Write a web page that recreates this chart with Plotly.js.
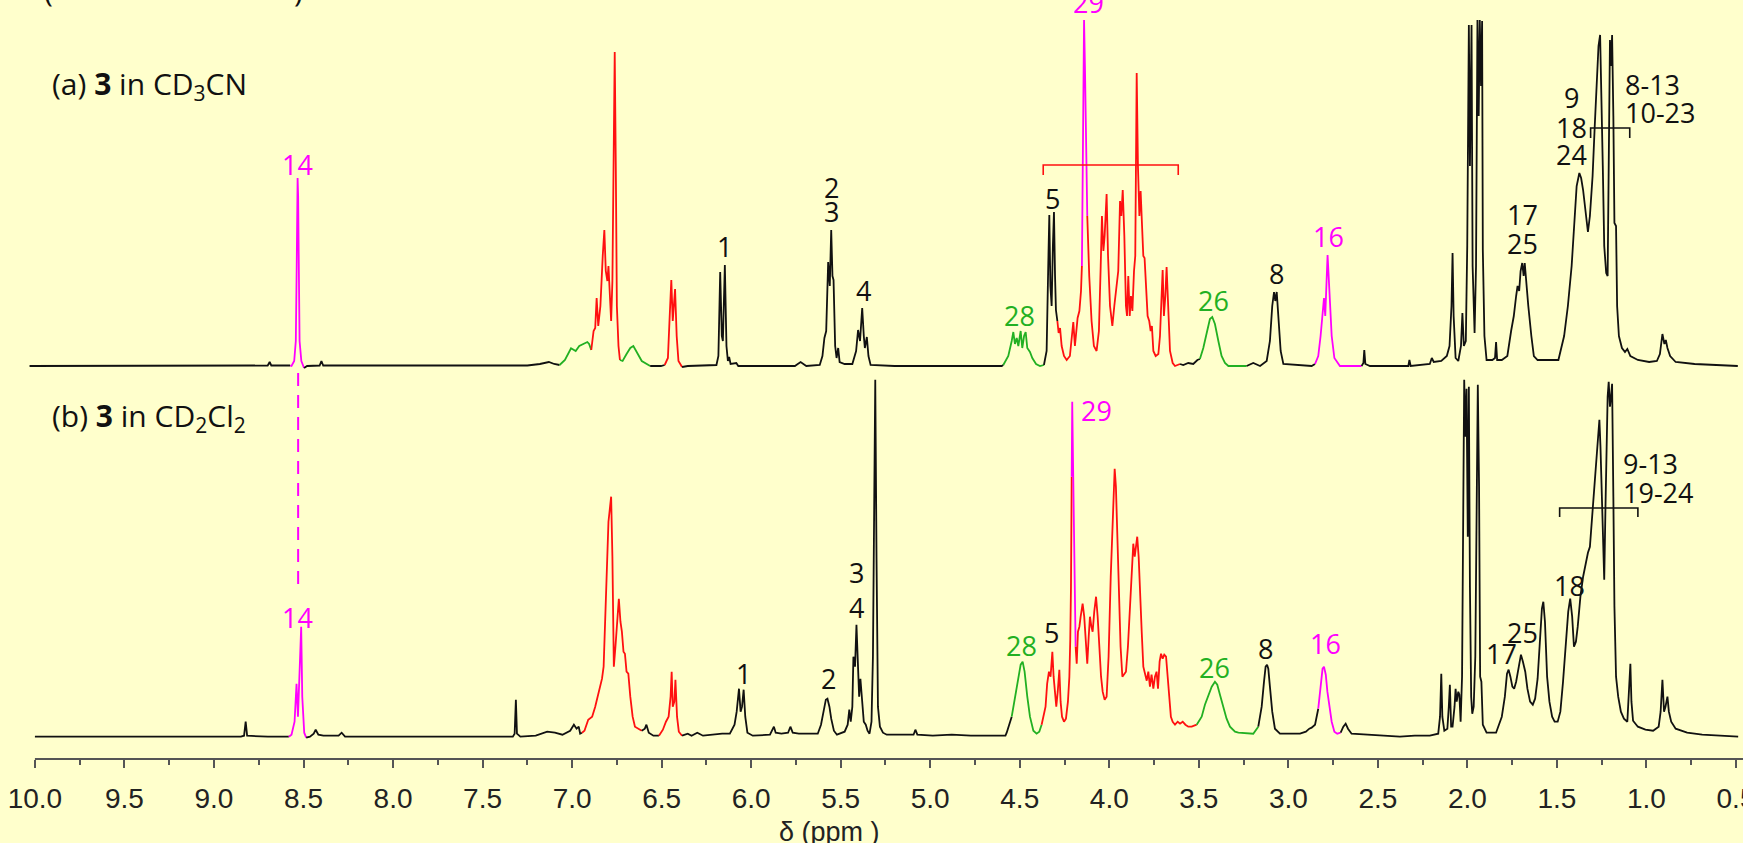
<!DOCTYPE html>
<html>
<head>
<meta charset="utf-8">
<script src="https://cdn.plot.ly/plotly-3.0.1.min.js"></script>
<style>html,body{margin:0;padding:0;background:#FFFFCC;}#chart{width:1743px;height:843px;}</style>
</head>
<body>
<div id="chart"></div>
<script>
// ---------- DATA (chemical shift in ppm, intensity in arbitrary units, colour code per point) ----------
// colour codes: k = black, r = red, g = green, m = magenta
const specA_ppm = [
10.03,8.75,8.70,8.689,8.68,8.575,
8.567,8.552,8.543,8.538,8.535,8.533,8.530,8.527,8.522,8.512,8.497,
8.48,8.41,8.40,8.39,7.25,7.18,7.13,7.10,7.07,
7.04,7.006,6.98,6.96,6.94,6.915,6.905,6.893,
6.880,6.871,6.863,6.854,6.842,6.829,6.820,6.812,6.803,6.797,6.788,6.782,6.775,6.769,6.762,6.756,6.750,6.741,6.733,
6.718,6.696,6.675,6.658,6.641,6.611,6.564,
6.504,6.483,
6.465,6.455,6.446,6.438,6.431,6.425,6.416,6.406,6.386,
6.354,6.194,6.183,6.173,6.164,6.158,6.152,6.147,6.138,6.130,6.123,6.115,6.083,6.072,5.756,5.724,5.692,5.617,5.602,5.591,5.581,5.570,5.561,5.553,5.546,5.540,5.531,5.523,5.514,5.506,5.478,5.435,5.414,5.403,5.392,5.380,5.371,5.365,5.354,5.345,5.333,5.200,4.601,
4.592,4.564,4.545,4.536,4.527,4.517,4.508,4.495,4.486,4.476,4.467,4.458,4.443,4.430,4.409,4.387,
4.365,4.350,4.341,4.335,4.329,4.322,4.315,4.309,4.303,4.298,
4.290,4.283,4.275,4.266,4.253,4.238,4.220,4.210,4.201,4.192,4.182,4.177,4.167,4.158,
4.153,4.147,4.141,4.136,4.130,
4.123,4.112,4.099,4.086,4.071,4.058,4.048,4.041,4.033,4.026,4.015,4.007,3.996,3.983,3.972,3.961,3.950,3.940,3.933,3.925,3.916,3.907,3.901,3.894,3.886,3.879,3.871,3.862,3.855,3.847,3.840,3.832,3.825,3.817,3.810,3.803,3.795,3.786,3.777,3.769,3.762,3.754,3.741,3.726,3.717,3.708,3.702,3.695,3.687,3.680,3.672,3.661,3.646,3.633,
3.605,3.587,3.559,3.531,3.508,
3.494,3.475,3.456,3.438,3.425,3.410,3.391,3.373,3.354,3.335,
3.233,3.196,3.158,3.121,3.103,3.090,3.080,3.073,3.065,3.056,3.043,3.028,2.870,
2.851,2.833,2.820,2.809,2.801,2.794,2.786,2.781,2.775,2.768,2.758,2.743,2.712,
2.591,2.581,2.576,2.570,2.544,2.330,2.324,2.317,2.210,2.199,2.188,2.146,2.115,2.100,2.089,2.083,2.077,2.066,2.051,2.036,2.028,2.020,2.009,2.001,1.992,1.986,1.977,1.971,1.960,1.952,1.944,1.937,1.931,1.924,1.918,1.914,1.905,1.893,1.861,1.846,1.840,1.834,1.808,1.777,1.756,1.741,1.728,1.720,1.711,1.703,1.694,1.686,1.680,1.671,1.660,1.643,1.629,1.608,1.492,1.460,1.439,1.418,1.403,1.390,1.375,1.365,1.354,1.339,1.327,1.316,1.301,1.289,1.278,1.268,1.259,1.253,1.244,1.236,1.225,1.217,1.211,1.204,1.198,1.192,1.185,1.179,1.170,1.164,1.154,1.137,1.120,1.107,1.090,1.048,0.985,0.942,0.925,0.911,0.900,0.892,0.883,0.868,0.837,0.731,0.49
];
const specA_int = [
0,0,0.5,4,0.5,0.5,
0,5,25,100,180,188,170,100,25,5,-2,
0,0.5,5,0.5,0.5,2,4,2,1,
6,17.7,15,20,22,24,22,16,
35,38,68,40,60,110,136,95,85,100,60,45,85,180,314,200,60,20,6,
5,12,18,20,15,5,0,
0,1,
8,50,86,45,60,77,30,5,-1,
0,1,10,94,30,25,60,101,20,5,9,2,3,0,0,4,0,1,10,28,35,104,80,136,90,86,20,8,18,4,2,2,15,36,25,58,30,18,29,10,1,0,0,
1,10,25,34,22,28,20,35,18,30,34,18,14,8,2,0,
1,15,100,151,80,60,120,154,90,56,
45,33,38,20,10,6,10,25,44,20,35,48,55,75,
100,250,346,300,200,
150,90,45,20,15,35,100,150,115,130,172,110,60,40,60,80,95,165,150,176,130,60,50,90,50,70,55,95,110,293,200,150,175,140,110,108,80,50,45,35,40,15,10,12,30,70,96,50,70,99,60,15,3,0,
2,1,3,2,6,
7,18,33,47,49,42,25,10,3,0,
0,3,0,5,25,60,74,65,74,45,15,2,0,
2,10,30,55,68,50,90,111,90,70,30,8,0,
0,3,16,2,0,0,6,0,2,8,4,5,10,20,60,113,50,8,5,20,53,20,25,120,341,200,341,100,33,100,346,250,346,280,345,116,30,6,6,8,24,6,6,10,35,50,70,80,75,95,103,90,103,80,60,30,10,6,6,30,60,100,145,180,193,188,176,150,134,150,190,240,290,320,331,290,200,120,93,90,200,326,300,331,250,143,140,60,30,18,14,17,10,6,4,5,12,32,22,26,18,10,4,2,0
];
const specA_col = [
'k','k','k','k','k','k',
'm','m','m','m','m','m','m','m','m','m','m',
'k','k','k','k','k','k','k','k','k',
'g','g','g','g','g','g','g','g',
'r','r','r','r','r','r','r','r','r','r','r','r','r','r','r','r','r','r','r',
'g','g','g','g','g','g','g',
'k','k',
'r','r','r','r','r','r','r','r','r',
'k','k','k','k','k','k','k','k','k','k','k','k','k','k','k','k','k','k','k','k','k','k','k','k','k','k','k','k','k','k','k','k','k','k','k','k','k','k','k','k','k','k','k','k',
'g','g','g','g','g','g','g','g','g','g','g','g','g','g','g','g',
'k','k','k','k','k','k','k','k','k','k',
'r','r','r','r','r','r','r','r','r','r','r','r','r','r',
'm','m','m','m','m',
'r','r','r','r','r','r','r','r','r','r','r','r','r','r','r','r','r','r','r','r','r','r','r','r','r','r','r','r','r','r','r','r','r','r','r','r','r','r','r','r','r','r','r','r','r','r','r','r','r','r','r','r','r','r',
'k','k','k','k','k',
'g','g','g','g','g','g','g','g','g','g',
'k','k','k','k','k','k','k','k','k','k','k','k','k',
'm','m','m','m','m','m','m','m','m','m','m','m','m',
'k','k','k','k','k','k','k','k','k','k','k','k','k','k','k','k','k','k','k','k','k','k','k','k','k','k','k','k','k','k','k','k','k','k','k','k','k','k','k','k','k','k','k','k','k','k','k','k','k','k','k','k','k','k','k','k','k','k','k','k','k','k','k','k','k','k','k','k','k','k','k','k','k','k','k','k','k','k','k','k','k','k','k','k','k','k','k','k','k','k','k','k','k','k','k','k','k','k','k','k','k','k','k','k','k','k','k','k','k','k','k','k','k','k','k','k','k','k'
];

const specB_ppm = [
10.0,8.85,8.832,8.823,8.815,8.699,8.582,
8.567,8.550,8.539,8.531,8.522,8.513,8.507,8.496,8.485,
8.464,8.443,8.432,8.417,8.389,8.304,8.287,8.268,7.331,7.321,7.314,7.308,7.289,7.203,7.139,7.096,7.054,7.011,6.99,6.975,6.963,6.955,6.945,
6.931,6.910,6.888,6.871,6.856,6.846,6.833,6.824,6.814,6.805,6.797,6.788,6.782,6.775,6.767,6.758,6.748,6.739,6.730,6.722,6.713,6.705,6.696,6.686,6.675,6.662,6.649,6.628,6.611,
6.594,6.585,6.572,6.546,6.515,
6.493,6.476,6.461,6.450,6.444,6.438,6.429,6.423,6.414,6.404,6.386,
6.354,6.333,6.301,6.269,6.162,6.119,6.093,6.081,6.068,6.059,6.051,6.042,6.033,6.021,5.991,5.895,5.884,5.873,5.863,5.831,5.794,5.781,5.768,5.734,5.702,5.628,5.610,5.595,5.583,5.574,5.563,5.553,5.538,5.521,5.478,5.461,5.452,5.444,5.435,5.429,5.420,5.412,5.403,5.397,5.390,5.382,5.371,5.360,5.350,5.339,5.328,5.320,5.313,5.307,5.300,5.292,5.281,5.264,5.243,5.093,5.083,5.072,4.986,4.880,4.773,4.580,
4.573,4.545,4.527,4.508,4.495,4.484,4.473,4.458,4.443,4.424,4.406,
4.391,4.378,4.365,4.356,4.347,4.337,4.328,4.318,4.311,4.303,4.296,4.288,4.279,4.272,4.264,4.253,4.242,4.231,4.223,4.218,
4.214,4.210,4.207,4.203,4.199,
4.194,4.188,4.182,4.175,4.167,4.160,4.149,4.140,4.130,4.123,4.115,4.108,4.100,4.093,4.084,4.074,4.065,4.056,4.046,4.037,4.026,4.015,4.004,3.992,3.981,3.970,3.963,3.955,3.946,3.937,3.927,3.918,3.907,3.896,3.885,3.873,3.866,3.858,3.851,3.844,3.836,3.829,3.819,3.810,3.801,3.791,3.782,3.773,3.764,3.754,3.745,3.736,3.728,3.719,3.711,3.702,3.693,3.683,3.674,3.665,3.656,3.646,3.633,3.618,3.605,3.590,3.575,3.559,
3.540,3.512,3.484,3.466,3.447,3.428,3.410,3.397,3.382,3.363,3.345,3.326,3.298,3.279,
3.196,3.168,3.149,3.136,3.127,3.119,3.112,3.103,3.090,3.075,3.047,2.935,2.902,2.883,2.870,
2.851,2.833,2.820,2.809,2.801,2.791,2.782,2.771,2.758,2.743,
2.727,2.708,2.693,2.680,2.667,2.647,2.563,2.377,2.294,2.210,2.163,2.153,2.146,2.140,2.129,2.112,2.104,2.098,2.091,2.083,2.072,2.066,2.060,2.051,2.045,2.038,2.030,2.024,2.018,2.011,2.005,1.998,1.992,1.986,1.979,1.973,1.965,1.956,1.948,1.942,1.935,1.929,1.922,1.914,1.893,1.840,1.808,1.791,1.779,1.770,1.760,1.749,1.739,1.728,1.713,1.701,1.690,1.677,1.665,1.650,1.635,1.622,1.608,1.595,1.584,1.576,1.567,1.555,1.542,1.527,1.513,1.496,1.481,1.466,1.449,1.437,1.426,1.415,1.405,1.394,1.384,1.369,1.354,1.339,1.327,1.316,1.306,1.293,1.280,1.270,1.263,1.257,1.248,1.242,1.236,1.229,1.223,1.217,1.211,1.204,1.198,1.192,1.185,1.179,1.170,1.158,1.143,1.126,1.107,1.099,1.090,1.084,1.075,1.048,1.006,0.963,0.932,0.921,0.911,0.902,0.894,0.883,0.875,0.862,0.837,0.773,0.689,0.488
];
const specB_int = [
0,0,1,15,1,0,0,
2,15,53,20,60,110,40,4,-1,
0,3,7,2,1,1,4,0,0,3,37,3,0,1,5,4,2,6,12,8,10,3,4,
6,17,20,30,40,48,58,70,117,160,215,230,240,180,70,90,120,138,115,105,85,83,65,63,40,20,10,8,6,
8,12,4,1,1,
7,15,20,40,65,30,35,57,20,5,1,
3,1,4,1,3,3,12,25,48,25,30,47,20,4,1,2,6,10,4,3,4,10,4,3,3,3,12,27,37,38,30,18,6,2,5,12,27,15,30,80,70,112,60,40,58,35,15,12,6,3,15,80,200,357,180,30,10,4,2,2,7,2,1,2,1,1,
4,20,40,60,72,75,65,40,20,6,3,
5,12,22,30,53,65,60,85,60,40,30,45,67,35,20,15,18,35,60,97,
150,260,335,280,233,
160,90,73,105,110,120,133,120,90,73,100,120,110,105,125,140,120,85,60,45,37,40,80,160,225,268,250,200,140,90,60,62,65,90,130,180,193,180,190,200,180,140,105,70,62,56,65,50,62,48,60,65,48,75,83,78,82,80,60,35,20,15,12,15,13,15,12,10,
10,12,20,32,42,50,55,52,42,30,18,10,5,4,
3,10,30,55,70,72,68,50,25,8,3,3,5,8,9,
12,28,50,68,70,62,45,30,15,5,
3,4,10,13,8,3,2,0,1,1,3,20,63,20,6,8,30,52,10,10,30,48,35,45,42,15,60,197,357,300,348,200,350,150,40,23,30,80,250,352,250,60,55,12,4,4,20,40,63,67,60,50,48,55,70,82,75,65,48,35,32,38,58,100,128,135,115,60,35,20,15,15,25,55,95,125,138,120,90,95,110,140,160,175,184,190,215,250,285,310,317,290,220,200,157,230,300,340,355,330,340,353,240,130,60,40,25,18,15,40,73,35,16,10,7,6,10,25,57,25,30,40,25,15,8,4,2,0
];
const specB_col = [
'k','k','k','k','k','k','k',
'm','m','m','m','m','m','m','m','m',
'k','k','k','k','k','k','k','k','k','k','k','k','k','k','k','k','k','k','k','k','k','k','k',
'r','r','r','r','r','r','r','r','r','r','r','r','r','r','r','r','r','r','r','r','r','r','r','r','r','r','r','r','r',
'k','k','k','k','k',
'r','r','r','r','r','r','r','r','r','r','r',
'k','k','k','k','k','k','k','k','k','k','k','k','k','k','k','k','k','k','k','k','k','k','k','k','k','k','k','k','k','k','k','k','k','k','k','k','k','k','k','k','k','k','k','k','k','k','k','k','k','k','k','k','k','k','k','k','k','k','k','k','k','k','k','k','k','k','k','k',
'g','g','g','g','g','g','g','g','g','g','g',
'r','r','r','r','r','r','r','r','r','r','r','r','r','r','r','r','r','r','r','r',
'm','m','m','m','m',
'r','r','r','r','r','r','r','r','r','r','r','r','r','r','r','r','r','r','r','r','r','r','r','r','r','r','r','r','r','r','r','r','r','r','r','r','r','r','r','r','r','r','r','r','r','r','r','r','r','r','r','r','r','r','r','r','r','r','r','r','r','r','r','r','r','r','r','r',
'g','g','g','g','g','g','g','g','g','g','g','g','g','g',
'k','k','k','k','k','k','k','k','k','k','k','k','k','k','k',
'm','m','m','m','m','m','m','m','m','m',
'k','k','k','k','k','k','k','k','k','k','k','k','k','k','k','k','k','k','k','k','k','k','k','k','k','k','k','k','k','k','k','k','k','k','k','k','k','k','k','k','k','k','k','k','k','k','k','k','k','k','k','k','k','k','k','k','k','k','k','k','k','k','k','k','k','k','k','k','k','k','k','k','k','k','k','k','k','k','k','k','k','k','k','k','k','k','k','k','k','k','k','k','k','k','k','k','k','k','k','k','k','k','k','k','k','k','k','k','k','k','k','k','k','k','k','k','k','k','k','k','k','k','k','k','k','k','k','k','k'
];

// Peak labels: [text, ppm, pixel row of label centre, colour code, anchor]
const labelsA = [
  ['14',8.533,165,'m','center'],['1',6.151,247,'k','center'],['2',5.553,187,'k','center'],['3',5.553,212,'k','center'],
  ['4',5.371,290,'k','center'],['28',4.499,315,'g','center'],['5',4.316,198,'k','center'],['29',4.117,3,'m','center'],
  ['26',3.419,300,'g','center'],['8',3.065,273,'k','center'],['16',2.777,237,'m','center'],
  ['17',1.692,215,'k','center'],['25',1.692,243,'k','center'],
  ['9',1.418,97,'k','center'],['18',1.418,127,'k','center'],['24',1.418,155,'k','center'],
  ['8-13',1.132,85,'k','left'],['10-23',1.132,113,'k','left']
];
const labelsB = [
  ['14',8.533,617,'m','center'],['1',6.044,673,'k','center'],['2',5.570,678,'k','center'],
  ['3',5.410,572,'k','center'],['4',5.410,607,'k','center'],['28',4.489,645,'g','center'],
  ['5',4.322,632,'k','center'],['29',4.167,410,'m','left'],['26',3.410,667,'g','center'],
  ['8',3.127,648,'k','center'],['16',2.795,643,'m','center'],['17',1.808,653,'k','center'],
  ['25',1.692,632,'k','center'],['18',1.428,585,'k','center'],
  ['9-13',1.142,463,'k','left'],['19-24',1.142,492,'k','left']
];
const tickPpm = [10.0,9.5,9.0,8.5,8.0,7.5,7.0,6.5,6.0,5.5,5.0,4.5,4.0,3.5,3.0,2.5,2.0,1.5,1.0,0.5];
const tickText = ['10.0','9.5','9.0','8.5','8.0','7.5','7.0','6.5','6.0','5.5','5.0','4.5','4.0','3.5','3.0','2.5','2.0','1.5','1.0','0.5'];

// ---------- RENDERING ----------
const COLORS = {k:'#111111', r:'#FF1010', g:'#22B022', m:'#FF00FF'};
const W = 1743, H = 843, PLOT_H = 759;
const py = fy => (PLOT_H - fy) / PLOT_H;   // pixel row -> paper y

function buildTraces(ppm, val, col, yax) {
  const out = [];
  let cur = null;
  for (let i = 0; i < ppm.length; i++) {
    if (!cur || col[i] !== cur.c) {
      const t = {x: [], y: [], c: col[i]};
      if (cur) { t.x.push(cur.x[cur.x.length-1]); t.y.push(cur.y[cur.y.length-1]); }
      out.push(t); cur = t;
    }
    cur.x.push(ppm[i]); cur.y.push(val[i]);
  }
  return out.map(t => ({
    type: 'scatter', mode: 'lines', x: t.x, y: t.y, yaxis: yax,
    line: {color: COLORS[t.c], width: 1.8}, hoverinfo: 'skip'
  }));
}

const traces = buildTraces(specA_ppm, specA_int, specA_col, 'y2')
  .concat(buildTraces(specB_ppm, specB_int, specB_col, 'y'));

const LABEL_FONT = 'Open Sans, Noto Sans, sans-serif';
const annotations = [];
labelsA.concat(labelsB).forEach(l => {
  annotations.push({
    text: l[0], x: l[1], xref: 'x', y: py(l[2]), yref: 'paper',
    xanchor: l[4], yanchor: 'middle', showarrow: false,
    font: {family: LABEL_FONT, size: 27, color: COLORS[l[3]]}
  });
});
annotations.push({text: '(a) <b>3</b> in CD<sub>3</sub>CN', x: 50/W, xref: 'paper', y: py(85), yref: 'paper',
  xanchor: 'left', yanchor: 'middle', showarrow: false, font: {family: LABEL_FONT, size: 30, color: '#111'}});
annotations.push({text: '(b) <b>3</b> in CD<sub>2</sub>Cl<sub>2</sub>', x: 50/W, xref: 'paper', y: py(417), yref: 'paper',
  xanchor: 'left', yanchor: 'middle', showarrow: false, font: {family: LABEL_FONT, size: 30, color: '#111'}});
annotations.push({text: '(', x: 48/W, xref: 'paper', y: py(13), yref: 'paper', xanchor: 'center', yanchor: 'bottom',
  showarrow: false, font: {family: LABEL_FONT, size: 30, color: '#111'}});
annotations.push({text: ')', x: 298/W, xref: 'paper', y: py(13), yref: 'paper', xanchor: 'center', yanchor: 'bottom',
  showarrow: false, font: {family: LABEL_FONT, size: 30, color: '#111'}});
annotations.push({text: 'δ (ppm )', x: 829/W, xref: 'paper', y: py(832), yref: 'paper', xanchor: 'center', yanchor: 'middle',
  showarrow: false, font: {family: 'Liberation Sans, Arial, sans-serif', size: 27, color: '#222'}});

function bracket(x0, x1, fyH, fyT, color) {
  return {type: 'path', xref: 'x', yref: 'paper',
    path: `M ${x0},${py(fyT)} L ${x0},${py(fyH)} L ${x1},${py(fyH)} L ${x1},${py(fyT)}`,
    line: {color: color, width: 1.6}};
}
const shapes = [
  {type: 'line', xref: 'x', yref: 'paper', x0: 10.0, x1: 0.46, y0: 0, y1: 0, line: {color: '#555', width: 2.2}},
  bracket(4.369, 3.615, 165, 175, COLORS.r),
  bracket(1.312, 1.0935, 128, 138, COLORS.k),
  bracket(1.485, 1.048, 508, 517, COLORS.k),
  {type: 'line', xref: 'x', yref: 'paper', x0: 8.53, x1: 8.53, y0: py(373), y1: py(590),
    line: {color: COLORS.m, width: 2, dash: '13px,9px'}}
];

const layout = {
  width: W, height: H,
  margin: {l: 0, r: 0, t: 0, b: H - PLOT_H},
  paper_bgcolor: '#FFFFCC', plot_bgcolor: '#FFFFCC',
  showlegend: false,
  xaxis: {
    range: [10.195, 0.461], tickmode: 'array', tickvals: tickPpm, ticktext: tickText,
    ticks: 'outside', ticklen: 8, tickwidth: 2, tickcolor: '#555',
    ticklabelstandoff: 6, ticklabeloverflow: 'allow',
    showgrid: false, zeroline: false, showline: false,
    tickfont: {family: 'Liberation Sans, Arial, sans-serif', size: 28, color: '#222'},
    minor: {tickmode: 'linear', tick0: 0.25, dtick: 0.5, ticks: 'outside', ticklen: 5, tickwidth: 2, tickcolor: '#555', showgrid: false}
  },
  yaxis: {range: [-22.3, 736.7], visible: false, fixedrange: true},
  yaxis2: {range: [-393, 366], overlaying: 'y', visible: false, fixedrange: true},
  annotations: annotations,
  shapes: shapes
};

Plotly.newPlot('chart', traces, layout, {displayModeBar: false, staticPlot: true});
</script>
</body>
</html>
